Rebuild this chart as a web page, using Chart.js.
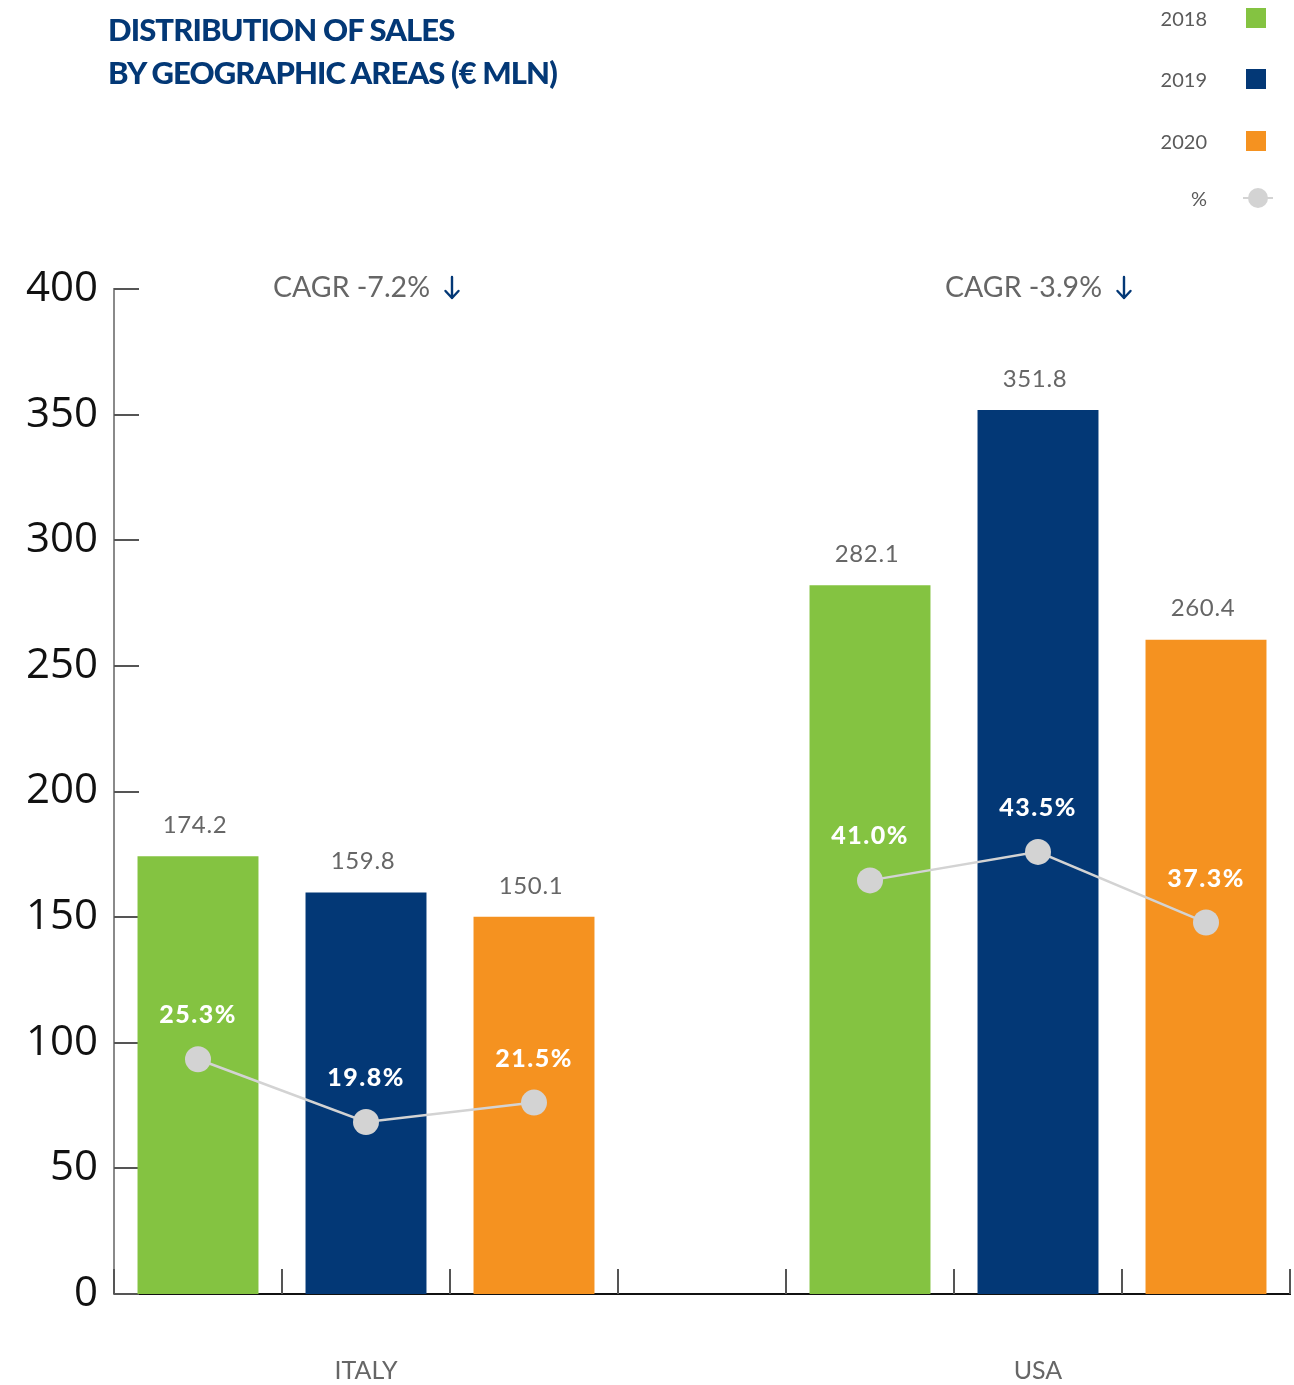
<!DOCTYPE html>
<html>
<head>
<meta charset="utf-8">
<title>Distribution of sales by geographic areas</title>
<script src="https://cdn.jsdelivr.net/npm/chart.js@4.4.1/dist/chart.umd.min.js"></script>
<style>
  html, body { margin: 0; padding: 0; background: #ffffff; }
  #wrap { position: relative; width: 1294px; height: 1385px; overflow: hidden; }
  #chart { position: absolute; left: 0; top: 0; }
  #title {
    position: absolute; left: 108px; top: 8px;
    font-family: Lato, "Open Sans", sans-serif; font-weight: 900;
    font-size: 31px; line-height: 43px; color: #033876; letter-spacing: -0.9px;
  }
  .leg-row { position: absolute; left: 1100px; width: 190px; height: 24px; }
  .leg-text {
    position: absolute; right: 83px; top: 0; line-height: 24px;
    font-family: Lato, "Open Sans", sans-serif; font-size: 20px; color: #5a5a5a;
  }
  .leg-box { position: absolute; left: 146px; top: 2px; width: 20px; height: 20px; }
  .leg-line { position: absolute; left: 143px; top: 11px; width: 30px; height: 2px; background: #d3d3d3; }
  .leg-dot { position: absolute; left: 148px; top: 2px; width: 20px; height: 20px; border-radius: 50%; background: #d3d3d3; }
</style>
</head>
<body>
<div id="wrap">
  <canvas id="chart" width="1294" height="1385"></canvas>
  <div id="title">DISTRIBUTION OF SALES<br>BY GEOGRAPHIC AREAS (€ MLN)</div>
  <div id="legend"></div>
</div>
<script>
// ---- data ----
const regions = ['ITALY', 'USA'];
const years = ['2018', '2019', '2020'];
const salesItaly = [174.2, 159.8, 150.1];   // € mln
const salesUSA = [282.1, 351.8, 260.4];     // € mln
const shareItaly = [25.3, 19.8, 21.5];      // % of total sales
const shareUSA = [41.0, 43.5, 37.3];        // % of total sales
const cagrLabels = ['CAGR -7.2%', 'CAGR -3.9%'];
const shareLegendLabel = '%';
const yMin = 0;
const yMax = 400;
const yStep = 50;

// ---- styles ----
const yearColors = ['#84c341', '#033876', '#f59220'];
const shareColor = '#d3d3d3';
const arrowColor = '#033876';

// Seven slots: three years per region with an empty slot between the regions.
const slotLabels = [...years, '', ...years];
const slotSales = [...salesItaly, null, ...salesUSA];
const slotShare = [...shareItaly, null, ...shareUSA];
const slotColors = [...yearColors, 'rgba(0,0,0,0)', ...yearColors];
const regionSlot = [1, 5];  // middle slot of each region group

// ---- legend ----
const legendEl = document.getElementById('legend');
const legendTops = [6, 67, 129, 186];
years.forEach((y, i) => {
  const row = document.createElement('div');
  row.className = 'leg-row';
  row.style.top = legendTops[i] + 'px';
  row.innerHTML = '<span class="leg-text">' + y + '</span><span class="leg-box" style="background:' + yearColors[i] + '"></span>';
  legendEl.appendChild(row);
});
{
  const row = document.createElement('div');
  row.className = 'leg-row';
  row.style.top = legendTops[3] + 'px';
  row.innerHTML = '<span class="leg-text">' + shareLegendLabel + '</span><span class="leg-line"></span><span class="leg-dot"></span>';
  legendEl.appendChild(row);
}

// ---- custom drawing: inner tick marks, value labels, CAGR headers ----
const decorations = {
  id: 'decorations',
  beforeDatasetsDraw(chart) {
    const ctx = chart.ctx;
    const area = chart.chartArea;
    const ys = chart.scales.y;
    const xs = chart.scales.x;
    ctx.save();
    ctx.strokeStyle = '#555555';
    ctx.lineWidth = 2;
    // short ticks pointing into the plot from the value axis
    ys.ticks.forEach(t => {
      const py = Math.round(ys.getPixelForValue(t.value));
      ctx.beginPath();
      ctx.moveTo(area.left, py);
      ctx.lineTo(area.left + 25, py);
      ctx.stroke();
    });
    // slot separators rising from the baseline
    const slotW = xs.getPixelForValue(1) - xs.getPixelForValue(0);
    for (let i = 0; i <= slotLabels.length; i++) {
      const px = Math.round(xs.getPixelForValue(0) - slotW / 2 + i * slotW);
      ctx.beginPath();
      ctx.moveTo(px, area.bottom);
      ctx.lineTo(px, area.bottom - 25);
      ctx.stroke();
    }
    ctx.restore();
  },
  afterDatasetsDraw(chart) {
    const ctx = chart.ctx;
    const area = chart.chartArea;
    const xs = chart.scales.x;
    const bars = chart.getDatasetMeta(1).data;
    const points = chart.getDatasetMeta(0).data;
    ctx.save();
    ctx.textAlign = 'center';
    ctx.textBaseline = 'middle';

    // sales values above the bars
    ctx.font = '24px Lato, "Open Sans", sans-serif';
    ctx.fillStyle = '#666666';
    ctx.letterSpacing = '0.6px';
    bars.forEach((b, i) => {
      if (slotSales[i] == null) return;
      ctx.fillText(slotSales[i].toFixed(1), b.x - 3, b.y - 31);
    });

    // share of sales above the points
    ctx.font = '900 25px Lato, "Open Sans", sans-serif';
    ctx.fillStyle = '#ffffff';
    ctx.letterSpacing = '1.5px';
    points.forEach((p, i) => {
      if (slotShare[i] == null) return;
      ctx.fillText(slotShare[i].toFixed(1) + '%', p.x, p.y - 44);
    });

    // CAGR header over each region, followed by a downward arrow
    ctx.letterSpacing = '0px';
    ctx.font = '28.5px Lato, "Open Sans", sans-serif';
    regionSlot.forEach((slot, r) => {
      const cx = xs.getPixelForValue(slot);
      const tw = ctx.measureText(cagrLabels[r]).width;
      const gap = 15, aw = 14;
      const start = cx - (tw + gap + aw) / 2;
      const cy = area.top - 1;
      ctx.textAlign = 'left';
      ctx.fillStyle = '#666666';
      ctx.fillText(cagrLabels[r], start, cy);
      const ax = start + tw + gap + aw / 2;
      ctx.strokeStyle = arrowColor;
      ctx.lineWidth = 2.4;
      ctx.lineCap = 'round';
      ctx.lineJoin = 'round';
      ctx.beginPath();
      ctx.moveTo(ax, cy - 11);
      ctx.lineTo(ax, cy + 10);
      ctx.moveTo(ax - 6.5, cy + 3);
      ctx.lineTo(ax, cy + 10);
      ctx.lineTo(ax + 6.5, cy + 3);
      ctx.stroke();
    });
    ctx.restore();
  }
};

new Chart(document.getElementById('chart'), {
  data: {
    labels: slotLabels,
    datasets: [
      {
        type: 'line',
        label: shareLegendLabel,
        data: slotShare,
        yAxisID: 'yShare',
        order: 0,
        borderColor: shareColor,
        borderWidth: 2.5,
        pointRadius: 13,
        pointHoverRadius: 13,
        pointBackgroundColor: shareColor,
        pointBorderWidth: 0,
        spanGaps: false,
        tension: 0
      },
      {
        type: 'bar',
        label: 'Sales',
        data: slotSales,
        yAxisID: 'y',
        order: 1,
        backgroundColor: slotColors,
        borderWidth: 0,
        barPercentage: 0.72,
        categoryPercentage: 1.0
      }
    ]
  },
  options: {
    responsive: false,
    animation: false,
    events: [],
    layout: { autoPadding: false, padding: { top: 289, right: 4, left: 0, bottom: 0 } },
    plugins: { legend: { display: false }, tooltip: { enabled: false }, title: { display: false } },
    scales: {
      x: {
        type: 'category',
        offset: true,
        grid: { display: false },
        border: { display: true, color: '#111111', width: 2 },
        afterFit(s) { s.height = 91; s.paddingLeft = 0; s.paddingRight = 0; },
        ticks: {
          autoSkip: false,
          maxRotation: 0,
          padding: 54,
          color: '#666666',
          font: { family: 'Lato, "Open Sans", sans-serif', size: 25 },
          callback(value, index) {
            const r = regionSlot.indexOf(index);
            return r >= 0 ? regions[r] : '';
          }
        }
      },
      y: {
        type: 'linear',
        position: 'left',
        min: yMin,
        max: yMax,
        grid: { display: false },
        border: { display: true, color: '#8a8a8a', width: 2 },
        afterFit(s) { s.width = 114; },
        ticks: {
          stepSize: yStep,
          padding: 8,
          color: '#111111',
          font: { family: '"Open Sans", sans-serif', size: 42 }
        }
      },
      yShare: {
        type: 'linear',
        display: false,
        min: 4.7,
        max: 92.9
      }
    }
  },
  plugins: [decorations]
});
</script>
</body>
</html>
